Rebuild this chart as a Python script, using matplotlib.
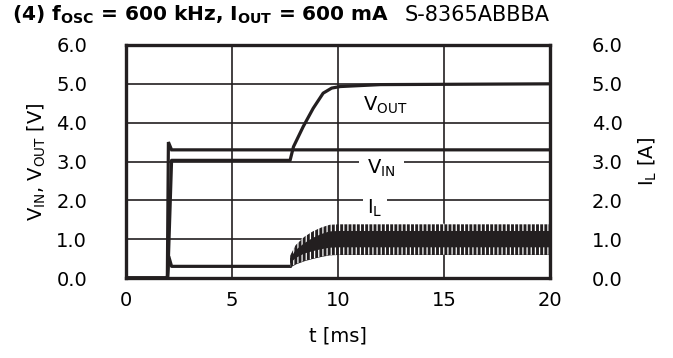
import numpy as np
import matplotlib
matplotlib.use("Agg")
import matplotlib.pyplot as plt

plt.rcParams['font.family'] = ['DejaVu Sans']
plt.rcParams['mathtext.fontset'] = 'dejavusans'
plt.rcParams['hatch.linewidth'] = 0.9

INK = '#231f20'
FS = 14

# ---- data ----
t_vin = [0.0, 1.95, 2.0, 2.15, 20.0]
v_in = [0.0, 0.0, 3.5, 3.3, 3.3]

t_vout = [0.0, 1.97, 2.15, 7.74, 7.9, 8.36, 8.83, 9.3, 9.7, 10.1, 12.0, 20.0]
v_out = [0.0, 0.0, 3.03, 3.03, 3.38, 3.9, 4.37, 4.76, 4.89, 4.93, 4.98, 5.0]

t_il = [0.0, 1.95, 2.02, 2.15, 7.74]
i_l = [0.0, 0.0, 0.55, 0.3, 0.3]

# inductor current ripple envelope
t_rip = [7.74, 8.0, 8.4, 8.8, 9.2, 9.6, 10.0, 20.0]
il_upper = [0.58, 0.85, 1.06, 1.2, 1.3, 1.37, 1.38, 1.38]
il_lower = [0.3, 0.38, 0.46, 0.52, 0.57, 0.61, 0.62, 0.62]

x_ticks = [0, 5, 10, 15, 20]
y_ticks = [0.0, 1.0, 2.0, 3.0, 4.0, 5.0, 6.0]
y_ticklabels = ['0.0', '1.0', '2.0', '3.0', '4.0', '5.0', '6.0']

fig = plt.figure(figsize=(6.73, 3.58), dpi=100)
ax = fig.add_axes([126/673, 80/358, 424/673, 233/358])

ax.set_xlim(0, 20)
ax.set_ylim(0, 6)
ax.set_xticks(x_ticks)
ax.set_yticks(y_ticks)
ax.set_yticklabels(y_ticklabels)
ax.tick_params(axis='both', length=0, labelsize=FS, colors='black')
ax.tick_params(axis='y', pad=28)
ax.tick_params(axis='x', pad=9)
ax.grid(True, color=INK, linewidth=1.2, zorder=1)
ax.set_axisbelow(True)
for s in ax.spines.values():
    s.set_linewidth(2.4)
    s.set_color(INK)
    s.set_zorder(6)

lw = 2.3
ax.plot(t_vin, v_in, color=INK, lw=lw, zorder=4, solid_joinstyle='miter')
ax.plot(t_vout, v_out, color=INK, lw=lw, zorder=4)
ax.plot(t_il, i_l, color=INK, lw=lw, zorder=4)

# ripple band
t_rip_a = np.array(t_rip)
up = np.array(il_upper)
lo = np.array(il_lower)
depth = np.minimum(0.17, (up - lo) * 0.28)
ax.fill_between(t_rip_a, lo, up, color=INK, lw=0.8, edgecolor=INK, zorder=4)
ax.fill_between(t_rip_a, up - depth, up + 0.02, facecolor='none', edgecolor='white',
                hatch='||||', lw=0, zorder=4.5)
ax.fill_between(t_rip_a, lo - 0.02, lo + depth, facecolor='none', edgecolor='white',
                hatch='||||', lw=0, zorder=4.5)

# curve labels
ax.text(11.2, 4.45, r'V$\mathregular{_{OUT}}$', fontsize=FS, ha='left', va='center', zorder=3)
ax.text(12.05, 2.83, r'V$\mathregular{_{IN}}$', fontsize=FS, ha='center', va='center',
        zorder=3, bbox=dict(facecolor='white', edgecolor='none', pad=6))
ax.text(11.75, 1.8, r'I$\mathregular{_{L}}$', fontsize=FS, ha='center', va='center',
        zorder=3, bbox=dict(facecolor='white', edgecolor='none', pad=3))

ax.set_xlabel('t [ms]', fontsize=FS, labelpad=12)
ax.set_ylabel(r'V$\mathregular{_{IN}}$, V$\mathregular{_{OUT}}$ [V]', fontsize=FS, labelpad=6)

ax2 = ax.twinx()
ax2.set_ylim(0, 6)
ax2.set_yticks(y_ticks)
ax2.set_yticklabels(y_ticklabels)
ax2.tick_params(axis='y', length=0, labelsize=FS, pad=30)
for s in ax2.spines.values():
    s.set_visible(False)
ax2.set_ylabel(r'I$\mathregular{_{L}}$ [A]', fontsize=FS, labelpad=10)

fig.text(12/673, 1 - 15/358,
         r'(4) f$\mathregular{_{OSC}}$ = 600 kHz, I$\mathregular{_{OUT}}$ = 600 mA',
         fontsize=14.5, fontweight='bold', ha='left', va='center')
fig.text(405/673, 1 - 15/358, 'S-8365ABBBA', fontsize=15, ha='left', va='center')

fig.savefig('out.png', dpi=100)
